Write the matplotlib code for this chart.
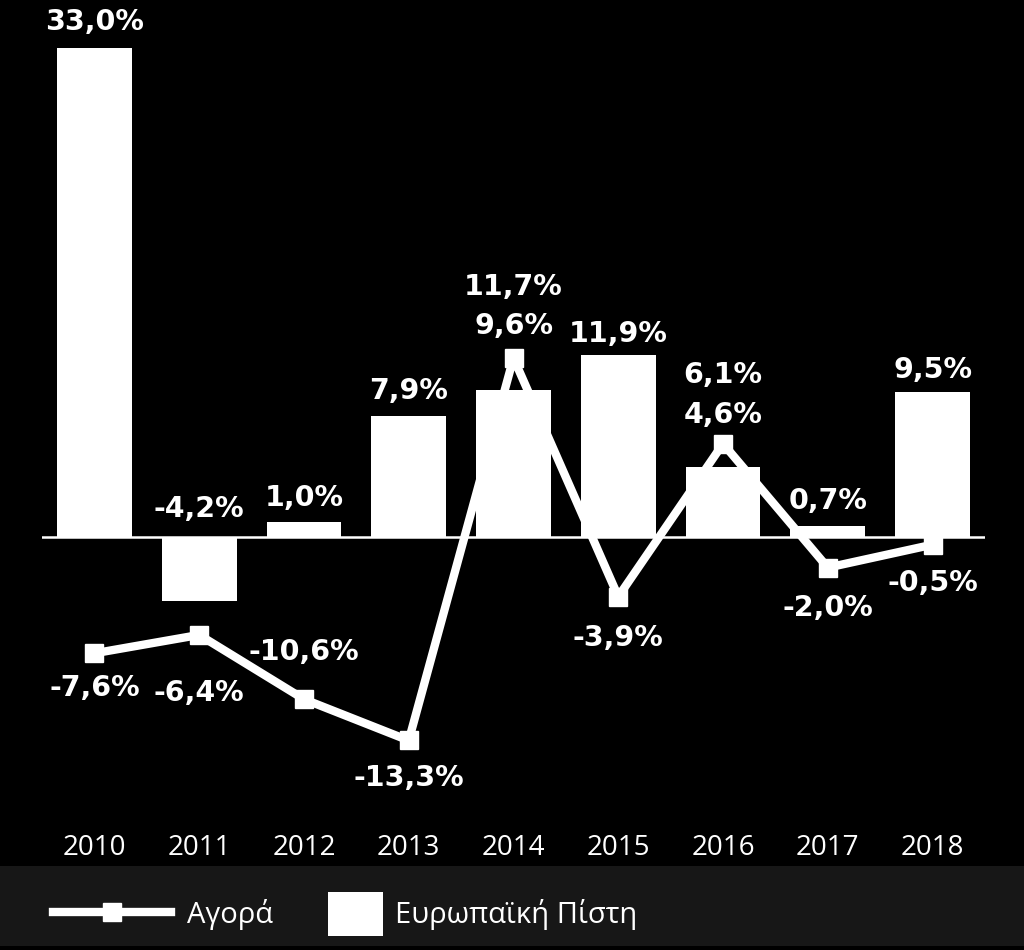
import matplotlib.pyplot as plt
from matplotlib.patches import Rectangle

# Δεδομένα
years = ['2010', '2011', '2012', '2013', '2014', '2015', '2016', '2017', '2018']
pistis = [33.0, -4.2, 1.0, 7.9, 9.6, 11.9, 4.6, 0.7, 9.5]      # Ευρωπαϊκή Πίστη (bars)
agora = [-7.6, -6.4, -10.6, -13.3, 11.7, -3.9, 6.1, -2.0, -0.5]  # Αγορά (line)

# label baseline offsets in pixels (+ up, - down)
bar_lab_dy = [18, 20, 16, 17, 56, 13, 44, 17, 14]
line_lab_dy = [-43, -66, 39, -46, 63, -49, 61, -48, -46]

W, H = 1024, 950
fig = plt.figure(figsize=(W / 100, H / 100), dpi=100, facecolor='black')

# bande de la légende
fig.patches.append(Rectangle((0, 4 / H), 1, 80 / H, transform=fig.transFigure,
                             facecolor='#171717', edgecolor='none', zorder=0))

ax_top, ax_bot, zero_px = 48, 826, 537
ax = fig.add_axes([42 / W, 1 - ax_bot / H, 943 / W, (ax_bot - ax_top) / H])
ax.set_facecolor('black')
scale = 15.3  # px per %
ymax = (zero_px - ax_top) / scale
ymin = -(ax_bot - zero_px) / scale
ax.set_ylim(ymin, ymax)
ax.set_xlim(-0.5, len(years) - 0.5)

x = list(range(len(years)))
bars = ax.bar(x, pistis, width=0.714, color='white', zorder=2)
line, = ax.plot(x, agora, color='white', lw=6, marker='s', ms=13, zorder=3)
ax.axhline(0, color='white', lw=1.8, zorder=2.5)

bold = dict(color='white', fontsize=20.5, fontweight='bold', family='DejaVu Sans',
            ha='center', va='baseline', textcoords='offset pixels', annotation_clip=False)


def fmt(v):
    return f'{v:.1f}%'.replace('.', ',')


for i, v in enumerate(pistis):
    base = min(max(v, 0), ymax)
    ax.annotate(fmt(v), (i, base), xytext=(0, bar_lab_dy[i]), zorder=4, **bold)

for i, v in enumerate(agora):
    ax.annotate(fmt(v), (i, v), xytext=(0, line_lab_dy[i]), zorder=4, **bold)

light = ['Open Sans', 'DejaVu Sans']
ax.set_xticks(x, years)
ax.set_yticks([])
ax.tick_params(axis='x', length=0, pad=6, labelcolor='white', labelsize=20)
for t in ax.get_xticklabels():
    t.set_family(light)
for s in ax.spines.values():
    s.set_visible(False)

# légendes
fs = 21
em = fs * 100 / 72
prop = {'family': light, 'size': fs}
fig.legend(handles=[line], labels=['Αγορά'], loc='center left',
           bbox_to_anchor=(53 / W, 36 / H), frameon=False, borderpad=0, borderaxespad=0,
           handlelength=118 / em, handletextpad=16 / em, numpoints=1,
           prop=prop, labelcolor='white')
fig.legend(handles=[bars], labels=['Ευρωπαϊκή Πίστη'], loc='center left',
           bbox_to_anchor=(328 / W, 36 / H), frameon=False, borderpad=0, borderaxespad=0,
           handlelength=55 / em, handleheight=56 / em, handletextpad=12 / em,
           prop=prop, labelcolor='white')

fig.savefig('out.png', dpi=100, facecolor='black')
